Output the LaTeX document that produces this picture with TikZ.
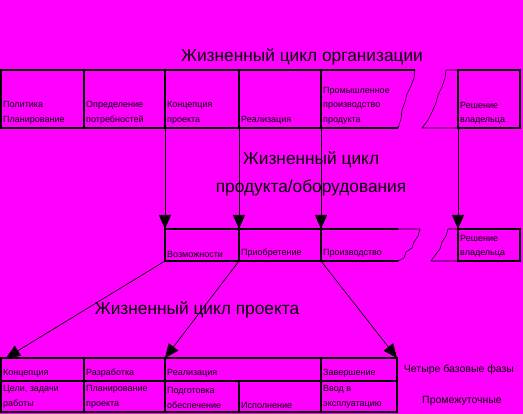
\documentclass[tikz,border=0pt]{standalone}
\usepackage{fontspec}
\setmainfont{Liberation Sans}
\usetikzlibrary{arrows.meta, positioning}
\definecolor{bgmag}{RGB}{255,0,255}

\begin{document}
\begin{tikzpicture}[
    x=1pt, y=-1pt,
    cell/.style={rectangle, draw, line width=1.5pt, anchor=north west, inner sep=0pt, outer sep=0pt},
    open/.style={rectangle, anchor=north west, inner sep=0pt, outer sep=0pt},
    lbl/.style={font=\fontsize{9}{14.5}\selectfont, align=left, inner xsep=2pt, inner ysep=3.5pt},
    title/.style={font=\fontsize{17.3}{28}\selectfont, align=center},
    note/.style={font=\fontsize{10.5}{12}\selectfont},
    arrow/.style={-{Triangle[length=14pt,width=12pt]}, line width=0.7pt},
    torn/.style={line width=0.6pt}
]
\fill[bgmag] (0,0) rectangle (523,414);

% organisation row
\node[title] (torg) at (302,57) {Жизненный цикл организации};
\node[cell, minimum width=83pt, minimum height=58pt, label={[lbl, anchor=south west]south west:Политика\\Планирование}] (pol) at (1,70) {};
\node[cell, minimum width=81pt, minimum height=58pt, label={[lbl, anchor=south west]south west:Определение\\потребностей}] (opr) at (84,70) {};
\node[cell, minimum width=74pt, minimum height=58pt, label={[lbl, anchor=south west]south west:Концепция\\проекта}] (konc) at (165,70) {};
\node[cell, minimum width=82pt, minimum height=58pt, label={[lbl, anchor=south west]south west:Реализация}] (real) at (239,70) {};
\node[open, minimum width=77pt, minimum height=58pt, label={[lbl, anchor=south west]south west:Промышленное\\производство\\продукта}] (prom) at (321,70) {};
\node[cell, minimum width=62pt, minimum height=58pt, label={[lbl, anchor=south west]south west:Решение\\владельца}] (resh) at (458,70) {};
\draw[line width=1.5pt] (prom.north west) -- (415,70);
\draw[line width=1.5pt] (prom.south west) -- (prom.south east);
\draw[torn] (415,70) -- (414,78) -- (411,86) -- (407,94) -- (405,102) -- (402,110) -- (401,119) -- (398,128);
\draw[torn] (458,70) -- (446,70) -- (445,78) -- (442,87) -- (438,95) -- (436,103) -- (432,112) -- (428,120) -- (422,128) -- (458,128);

% product row
\node[title] (tprod) at (311,174) {Жизненный цикл\\продукта/оборудования};
\node[cell, minimum width=74pt, minimum height=32pt, label={[lbl, anchor=south west]south west:Возможности}] (vozm) at (165,229) {};
\node[cell, minimum width=82pt, minimum height=32pt, label={[lbl, anchor=south west]south west:Приобретение}] (prio) at (239,229) {};
\node[open, minimum width=77pt, minimum height=32pt, label={[lbl, anchor=south west]south west:Производство}] (proizv) at (321,229) {};
\node[cell, minimum width=62pt, minimum height=32pt, label={[lbl, anchor=south west]south west:Решение\\владельца}] (resh2) at (458,229) {};
\draw[line width=1.5pt] (proizv.north west) -- (398,229);
\draw[torn] (398,229) -- (420,229) -- (418,236) -- (414,242) -- (412,248) -- (406,252) -- (404,258) -- (398,261);
\draw[line width=1.5pt] (proizv.south west) -- (proizv.south east);
\draw[torn] (458,229) -- (448,229) -- (446,236) -- (442,242) -- (440,249) -- (436,254) -- (433,258) -- (431,261) -- (458,261);

\draw[arrow] (konc.south west) -- (vozm.north west);
\draw[arrow] (real.south west) -- (prio.north west);
\draw[arrow] (prom.south west) -- (proizv.north west);
\draw[arrow] (resh.south west) -- (resh2.north west);

% project rows
\node[title] (tproj) at (197,310) {Жизненный цикл проекта};
\node[cell, minimum width=83pt, minimum height=23pt, label={[lbl, anchor=south west]south west:Концепция}] (bkonc) at (1,358) {};
\node[cell, minimum width=81pt, minimum height=23pt, label={[lbl, anchor=south west]south west:Разработка}] (brazr) at (84,358) {};
\node[cell, minimum width=156pt, minimum height=23pt, label={[lbl, anchor=south west]south west:Реализация}] (breal) at (165,358) {};
\node[cell, minimum width=76pt, minimum height=23pt, label={[lbl, anchor=south west]south west:Завершение}] (bzav) at (321,358) {};
\node[cell, minimum width=83pt, minimum height=31pt, label={[lbl, anchor=south west]south west:Цели, задачи\\работы}] (bcel) at (1,381) {};
\node[cell, minimum width=81pt, minimum height=31pt, label={[lbl, anchor=south west]south west:Планирование\\проекта}] (bplan) at (84,381) {};
\node[cell, minimum width=74pt, minimum height=31pt, label={[lbl, anchor=south west]south west:Подготовка\\обеспечение}] (bpodg) at (165,381) {};
\node[cell, minimum width=82pt, minimum height=31pt, label={[lbl, anchor=south west]south west:Исполнение}] (bisp) at (239,381) {};
\node[cell, minimum width=76pt, minimum height=31pt, label={[lbl, anchor=south west]south west:Ввод в\\эксплуатацию}] (bvvod) at (321,381) {};

\draw[arrow] (vozm.south west) -- ([xshift=5pt]bkonc.north west);
\draw[arrow] (prio.south west) -- (breal.north west);
\draw[arrow] (proizv.south west) -- (bzav.north east);

\node[note] (faz) at (459,370) {Четыре базовые фазы};
\node[note] (prom2) at (462,401) {Промежуточные};
\end{tikzpicture}
\end{document}
